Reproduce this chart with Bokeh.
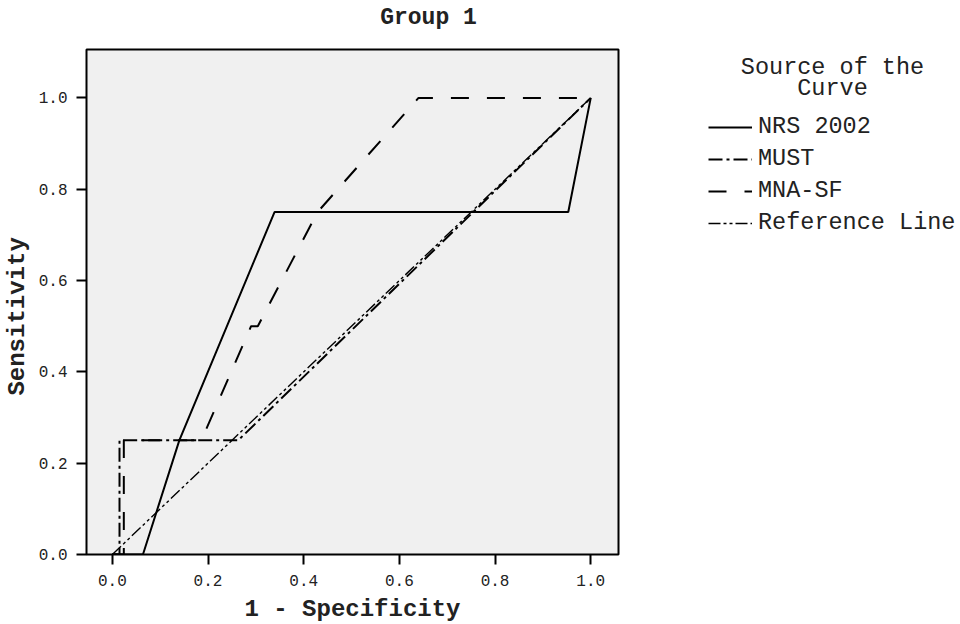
from bokeh.plotting import figure
from bokeh.models import Range1d, FixedTicker, PrintfTickFormatter, Label, Legend, LegendItem
from bokeh.layouts import row, column
from bokeh.embed import file_html
from bokeh.resources import INLINE

# ROC curve data (1 - Specificity, Sensitivity)
nrs_fpr = [0.0, 0.064, 0.14, 0.339, 0.953, 1.0]
nrs_tpr = [0.0, 0.0, 0.25, 0.75, 0.75, 1.0]
must_fpr = [0.0, 0.015, 0.015, 0.263, 1.0]
must_tpr = [0.0, 0.0, 0.25, 0.25, 1.0]
mna_fpr = [0.0, 0.024, 0.024, 0.186, 0.29, 0.304, 0.429, 0.64, 1.0]
mna_tpr = [0.0, 0.0, 0.25, 0.25, 0.5, 0.5, 0.75, 1.0, 1.0]
ref_fpr = [0.0, 1.0]
ref_tpr = [0.0, 1.0]

series_names = ["NRS 2002", "MUST", "MNA-SF", "Reference Line"]
ticks = [0.0, 0.2, 0.4, 0.6, 0.8, 1.0]

FONT = "Liberation Mono"
TXT = "#222222"
NBSP = "\u00a0"

styles = [
    dict(line_color="black", line_width=2.0),
    dict(line_color="black", line_width=2.0, line_dash="14 4 3 4"),
    dict(line_color="black", line_width=2.0, line_dash="18 18"),
    dict(line_color="black", line_width=1.4, line_dash="12 3 3 3 3 3"),
]


def blank(width, height, xr, yr, **kw):
    f = figure(width=width, height=height, output_backend="svg", toolbar_location=None,
               x_range=Range1d(*xr), y_range=Range1d(*yr),
               x_axis_location=None, y_axis_location=None,
               min_border=0, min_border_left=0, min_border_right=0,
               min_border_top=kw.get("top", 0), min_border_bottom=kw.get("bottom", 0))
    f.outline_line_color = None
    f.background_fill_color = "white"
    f.border_fill_color = "white"
    f.grid.visible = False
    return f


# --- title strip (screen rows 0..34) ---
tf = blank(960, 34, (0, 960), (34, 0))
tf.add_layout(Label(x=428, y=17, text="Group 1", text_font=FONT, text_font_size="23px",
                    text_font_style="bold", text_align="center", text_baseline="middle",
                    text_color=TXT))

# --- main plot (screen rows 34..592) ---
p = figure(width=620, height=558, output_backend="svg", toolbar_location=None,
           x_range=Range1d(-0.054, 1.058), y_range=Range1d(0.0, 1.106),
           min_border_left=85, min_border_right=2, min_border_top=15, min_border_bottom=38)

p.background_fill_color = "#f0f0f0"
p.border_fill_color = "white"
p.outline_line_color = "black"
p.outline_line_width = 2
p.grid.visible = False

for ax in (p.xaxis[0], p.yaxis[0]):
    ax.ticker = FixedTicker(ticks=ticks)
    ax.formatter = PrintfTickFormatter(format="%.1f")
    ax.axis_line_color = None
    ax.major_tick_out = 10
    ax.major_tick_in = 0
    ax.major_tick_line_width = 2
    ax.major_tick_line_color = "black"
    ax.minor_tick_line_color = None
    ax.major_label_text_font = FONT
    ax.major_label_text_font_size = "16px"
    ax.major_label_text_color = TXT
    ax.major_label_standoff = 9
    ax.axis_label_text_font = FONT
    ax.axis_label_text_font_size = "24px"
    ax.axis_label_text_font_style = "bold"
    ax.axis_label_text_color = TXT

p.xaxis.major_label_standoff = 10
p.yaxis.axis_label_standoff = 5
p.yaxis.axis_label = "Sensitivity" + NBSP * 2

xs = [nrs_fpr, must_fpr, mna_fpr, ref_fpr]
ys = [nrs_tpr, must_tpr, mna_tpr, ref_tpr]
for x, y, st in zip(xs, ys, styles):
    p.line(x, y, **st)

# --- legend panel (frame aligned with the main frame: screen y 49..554) ---
lf = blank(340, 558, (0, 340), (554, 49), top=15, bottom=38)
nan = float("nan")
leg_renderers = [lf.line(x=[nan], y=[nan], **st) for st in styles]
legend = Legend(items=[LegendItem(label=n, renderers=[r]) for n, r in zip(series_names, leg_renderers)],
                location=(88, 318), orientation="vertical",
                glyph_width=44, glyph_height=20, label_standoff=6, spacing=5,
                label_text_font=FONT, label_text_font_size="23.5px", label_text_color=TXT,
                background_fill_alpha=0, border_line_color=None, padding=0, margin=0)
lf.add_layout(legend, "center")

for ty, t in [(67, "Source of the"), (88, "Curve")]:
    lf.add_layout(Label(x=212, y=ty, text=t, text_font=FONT, text_font_size="23.5px",
                        text_align="center", text_baseline="middle", text_color=TXT))

# --- x-axis title strip (screen rows 592..624) ---
bf = blank(960, 32, (0, 960), (624, 592))
bf.add_layout(Label(x=352, y=609, text="1 - Specificity", text_font=FONT, text_font_size="24px",
                    text_font_style="bold", text_align="center", text_baseline="middle",
                    text_color=TXT))

layout = column(tf, row(p, lf, spacing=0), bf, spacing=0)
open("out.html", "w").write(file_html(layout, INLINE))
